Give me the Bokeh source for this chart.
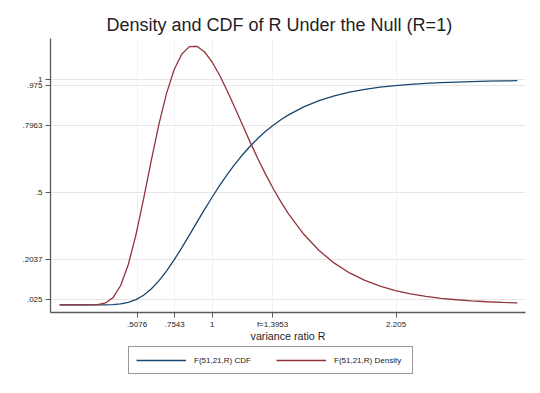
from bokeh.plotting import figure
from bokeh.layouts import column
from bokeh.models import (FixedTicker, CustomJSTickFormatter, Legend, LegendItem, Range1d)
from bokeh.embed import file_html
from bokeh.resources import INLINE

# ---- data ----
r = [0, 0.1, 0.15, 0.2, 0.25, 0.3, 0.35, 0.4, 0.45, 0.5, 0.55, 0.6, 0.65, 0.7, 0.75,
     0.8, 0.85, 0.9, 0.95, 1.0, 1.05, 1.1, 1.15, 1.2, 1.25, 1.3, 1.35, 1.4, 1.45, 1.5,
     1.6, 1.7, 1.8, 1.9, 2.0, 2.1, 2.2, 2.3, 2.4, 2.5, 2.6, 2.7, 2.8, 2.9, 3.0]
density = [0, 0, 0, 0.0001, 0.0013, 0.0085, 0.0322, 0.0861, 0.1795, 0.3113, 0.4706,
           0.6399, 0.8009, 0.9391, 1.0449, 1.1142, 1.1478, 1.1494, 1.1240, 1.0785,
           1.0183, 0.9484, 0.8735, 0.7969, 0.7212, 0.6485, 0.5800, 0.5161, 0.4576,
           0.4045, 0.3136, 0.2416, 0.1853, 0.1418, 0.1085, 0.0831, 0.0637, 0.0489,
           0.0377, 0.0291, 0.0226, 0.0176, 0.0137, 0.0107, 0.0084]
cdf = [0, 0, 0, 0.0, 0.00004, 0.0003, 0.0013, 0.0043, 0.0109, 0.0232, 0.0427, 0.0705,
       0.1065, 0.1500, 0.1996, 0.2536, 0.3101, 0.3676, 0.4244, 0.4795, 0.5319, 0.5811,
       0.6266, 0.6684, 0.7063, 0.7406, 0.7713, 0.7987, 0.8230, 0.8446, 0.8803, 0.9080,
       0.9292, 0.9455, 0.9579, 0.9674, 0.9747, 0.9803, 0.9846, 0.9879, 0.9905, 0.9925,
       0.9941, 0.9953, 0.9963]

x_ticks = [0.5076, 0.7543, 1.0, 1.3953, 2.205]
x_tick_labels = [".5076", ".7543", "1", "f=1.3953", "2.205"]
y_ticks = [0.025, 0.2037, 0.5, 0.7963, 0.975, 1.0]
y_tick_labels = [".025", ".2037", ".5", ".7963", ".975", "1"]

title_text = "Density and CDF of R Under the Null (R=1)"
x_label = "variance ratio R"
cdf_label = "F(51,21,R) CDF"
density_label = "F(51,21,R) Density"

FONT = "Liberation Sans"
NAVY = "#1a476f"
MAROON = "#90353b"
AXIS = "#5a5a5a"

p = figure(width=540, height=345, output_backend="svg", toolbar_location=None,
           x_range=Range1d(-0.060, 3.053), y_range=Range1d(-0.034, 1.184),
           min_border_left=50, min_border_right=15, min_border_top=38, min_border_bottom=33)

p.title.text = title_text
p.title.align = "left"
p.title.text_font = FONT
p.title.text_font_size = "18px"
p.title.text_font_style = "normal"
p.title.text_color = "#1e1e28"
p.title.offset = 56
p.title.standoff = 7

p.outline_line_color = None
p.background_fill_color = "white"
p.border_fill_color = "white"

cdf_r = p.line(r, cdf, line_color=NAVY, line_width=1.3)
den_r = p.line(r, density, line_color=MAROON, line_width=1.3)

fmt_js = "const i = tv.findIndex(t => Math.abs(t - tick) < 1e-9); return i >= 0 ? tl[i] : '';"
p.xaxis.ticker = FixedTicker(ticks=x_ticks)
p.xaxis.formatter = CustomJSTickFormatter(args=dict(tv=x_ticks, tl=x_tick_labels), code=fmt_js)
p.yaxis.ticker = FixedTicker(ticks=y_ticks)
p.yaxis.formatter = CustomJSTickFormatter(args=dict(tv=y_ticks, tl=y_tick_labels), code=fmt_js)

for ax in (p.xaxis[0], p.yaxis[0]):
    ax.axis_line_color = AXIS
    ax.axis_line_width = 1.3
    ax.major_tick_line_color = AXIS
    ax.major_tick_out = 5
    ax.major_tick_in = 0
    ax.minor_tick_out = 0
    ax.minor_tick_in = 0
    ax.major_label_text_font = FONT
    ax.major_label_text_font_size = "8px"
    ax.major_label_text_color = "#222222"
    ax.major_label_standoff = 3

p.xaxis.major_label_standoff = 2
p.yaxis.major_label_orientation = "horizontal"
p.xaxis.axis_label = x_label
p.xaxis.axis_label_text_font = FONT
p.xaxis.axis_label_text_font_size = "10.7px"
p.xaxis.axis_label_text_font_style = "normal"
p.xaxis.axis_label_text_color = "#1e1e28"
p.xaxis.axis_label_standoff = -2

p.xgrid.ticker = FixedTicker(ticks=x_ticks)
p.ygrid.ticker = FixedTicker(ticks=y_ticks)
p.xgrid.grid_line_color = "#f1f1f1"
p.ygrid.grid_line_color = "#e6e6e6"

# ---- legend strip below the plot ----
lg = figure(width=540, height=48, output_backend="svg", toolbar_location=None,
            x_axis_type=None, y_axis_type=None,
            x_range=Range1d(0, 1), y_range=Range1d(0, 1),
            min_border_left=50, min_border_right=15, min_border_top=0, min_border_bottom=0)
lg.outline_line_color = None
lg.xgrid.visible = False
lg.ygrid.visible = False
lg.background_fill_color = "white"
lg.border_fill_color = "white"
# swatch renderers placed outside the visible range (only their legend glyphs show)
sw_cdf = lg.line([5, 6], [5, 6], line_color=NAVY, line_width=1.3)
sw_den = lg.line([5, 6], [5, 6], line_color=MAROON, line_width=1.3)

legend = Legend(items=[LegendItem(label=cdf_label, renderers=[sw_cdf]),
                       LegendItem(label=density_label, renderers=[sw_den])],
                orientation="horizontal", location=(78, 19))
legend.border_line_color = "#333333"
legend.border_line_width = 1
legend.background_fill_color = "white"
legend.label_text_font = FONT
legend.label_text_font_size = "8px"
legend.label_text_color = "#222222"
legend.glyph_width = 50
legend.glyph_height = 12
legend.label_height = 12
legend.label_width = 71
legend.label_standoff = 8
legend.spacing = 11
legend.padding = 7
legend.margin = 0
lg.add_layout(legend, "center")

layout = column(p, lg, spacing=0)
open("out.html", "w").write(file_html(layout, INLINE))
